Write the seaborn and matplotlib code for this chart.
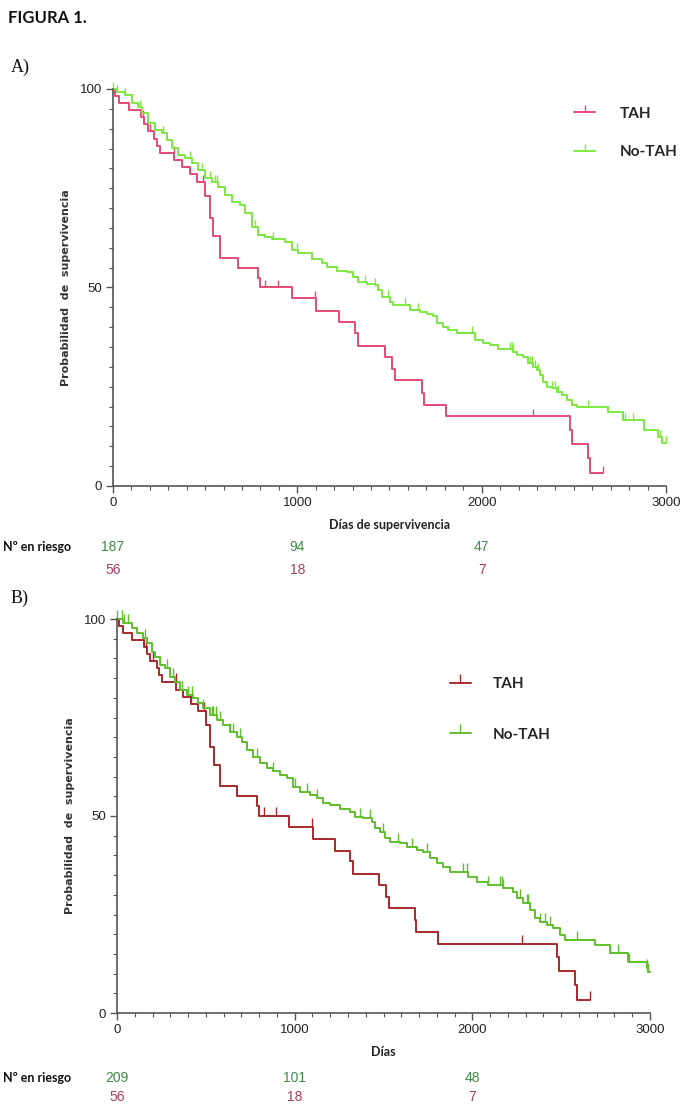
import matplotlib
matplotlib.use("Agg")
import matplotlib.pyplot as plt
from matplotlib.lines import Line2D
from matplotlib.ticker import MultipleLocator
from matplotlib.transforms import blended_transform_factory
import numpy as np
import pandas as pd
import seaborn as sns

# TAH curve (same in both panels): event time in days -> survival % after the step
tah_t = [0, 11, 33, 87, 152, 170, 188, 224, 237, 255, 333, 373, 418, 454, 499, 526, 544, 580, 676, 789,
         798, 970, 1102, 1228, 1313, 1330, 1477, 1515, 1530, 1676, 1685, 1804, 2478, 2490, 2578, 2588, 2660]
tah_s = [100, 98.2, 96.4, 94.6, 92.9, 91.1, 89.3, 87.5, 85.7, 84.0, 82.1, 80.3, 78.5, 76.7, 73.0, 67.5, 63.0, 57.5, 55.0, 52.5,
         50.0, 47.3, 44.2, 41.2, 38.5, 35.3, 32.4, 29.4, 26.7, 23.5, 20.5, 17.6, 14.1, 10.6, 7.0, 3.4, 3.4]
tah_cens = [165, 200, 331, 418, 490, 825, 893, 1096, 2278, 2660]

# No-TAH, panel A
notah_a_t = [0, 20, 65, 101, 137, 156, 192, 228, 264, 291, 318, 354, 391, 427, 463, 499, 535, 572, 608, 644,
             689, 716, 752, 789, 825, 861, 933, 969, 1006, 1078, 1132, 1159, 1214, 1268, 1304, 1331, 1376, 1422, 1440, 1458,
             1503, 1521, 1611, 1666, 1702, 1738, 1756, 1792, 1820, 1865, 1964, 2009, 2046, 2091, 2172, 2190, 2226, 2254, 2281, 2299,
             2317, 2335, 2353, 2380, 2407, 2434, 2462, 2489, 2516, 2688, 2769, 2878, 2959, 2977, 3000]
notah_a_s = [100, 99.2, 98.5, 96.4, 95.5, 93.9, 91.4, 89.7, 88.8, 87.2, 85.1, 83.4, 82.5, 81.3, 79.6, 77.5, 76.7, 75.4, 73.3, 71.6,
             70.8, 68.7, 65.3, 63.2, 62.8, 62.1, 61.5, 59.4, 58.6, 57.3, 56.1, 55.1, 54.2, 54.0, 52.7, 51.5, 51.0, 50.6, 49.4, 47.7,
             46.4, 45.6, 44.3, 43.9, 43.3, 42.7, 41.0, 40.1, 39.3, 38.5, 36.9, 35.9, 35.5, 34.4, 33.8, 33.0, 32.6, 30.9, 30.1, 29.2,
             28.0, 26.3, 25.0, 24.6, 23.8, 22.9, 21.7, 20.4, 19.8, 18.7, 16.6, 14.1, 12.4, 10.9, 10.9]
notah_a_cens = [0, 20, 65, 147, 273, 318, 418, 481, 526, 553, 562, 770, 870, 997, 1368, 1422, 1494, 1585, 1657, 1946,
                1964, 2154, 2163, 2172, 2263, 2272, 2290, 2308, 2380, 2398, 2416, 2579, 2778, 2823, 2878, 2968, 3000]

# No-TAH, panel B
notah_b_t = [0, 36, 83, 111, 148, 167, 195, 214, 242, 270, 298, 326, 355, 392, 430, 458, 486, 523, 561, 598,
             636, 673, 702, 730, 767, 805, 842, 880, 917, 955, 992, 1030, 1086, 1124, 1161, 1199, 1255, 1311, 1339, 1386,
             1433, 1452, 1480, 1508, 1536, 1593, 1630, 1686, 1724, 1761, 1799, 1836, 1874, 1977, 2024, 2090, 2174, 2230, 2249, 2287,
             2324, 2352, 2380, 2418, 2455, 2493, 2521, 2690, 2774, 2877, 2981, 2990, 3000]
notah_b_s = [100, 99.0, 97.6, 96.4, 95.1, 93.8, 91.7, 90.4, 88.3, 87.5, 85.4, 84.1, 82.0, 80.7, 79.9, 78.6, 77.3, 75.6, 74.4, 73.1,
             71.4, 70.1, 68.9, 66.8, 65.1, 63.4, 62.1, 61.3, 60.4, 59.6, 57.4, 56.2, 55.3, 54.5, 53.2, 52.8, 51.9, 51.1, 49.8, 49.4,
             48.6, 46.9, 46.0, 44.3, 43.5, 43.1, 42.2, 41.4, 40.9, 39.3, 38.0, 37.1, 35.9, 34.6, 33.3, 32.5, 31.6, 30.8, 29.1, 27.8,
             26.1, 24.0, 23.2, 22.3, 21.5, 19.8, 18.5, 17.3, 15.3, 13.0, 11.3, 10.5, 10.5]
notah_b_cens = [0, 26, 40, 64, 158, 242, 280, 317, 364, 401, 420, 486, 533, 542, 557, 580, 636, 655, 692, 786,
                880, 1002, 1067, 1124, 1367, 1424, 1499, 1583, 1658, 1743, 1949, 1968, 2090, 2155, 2165, 2174, 2268, 2305, 2315, 2380,
                2408, 2437, 2587, 2774, 2821, 2883, 2981, 2990]

# numbers at risk
risk_days = [0, 1000, 2000]
risk_a_notah = ["187", "94", "47"]
risk_a_tah = ["56", "18", "7"]
risk_b_notah = ["209", "101", "48"]
risk_b_tah = ["56", "18", "7"]

labels = ["TAH", "No-TAH"]

sns.set_style("ticks")
plt.rcParams["font.family"] = ["Liberation Sans", "DejaVu Sans"]

W, H = 682, 1112
fig = plt.figure(figsize=(W / 100, H / 100), dpi=100)


def km_panel(ax, t_tah, s_tah, c_tah, t_no, s_no, c_no, col_tah, col_no, xlabel, tick_ms):
    for t, s, c, col in [(t_tah, s_tah, c_tah, col_tah), (t_no, s_no, c_no, col_no)]:
        d = pd.DataFrame({"t": t, "s": s})
        sns.lineplot(data=d, x="t", y="s", ax=ax, color=col, linewidth=1.4,
                     drawstyle="steps-post", estimator=None, legend=False, clip_on=False)
        # censoring marks, y looked up from the step curve
        idx = np.searchsorted(np.array(t), np.array(c), side="right") - 1
        cd = pd.DataFrame({"t": c, "s": np.array(s)[idx]})
        sns.scatterplot(data=cd, x="t", y="s", ax=ax, marker=2, s=tick_ms ** 2,
                        color=col, linewidth=1.0, legend=False, clip_on=False)
    ax.set_xlim(0, 3000)
    ax.set_ylim(0, 100)
    ax.set_xticks([0, 1000, 2000, 3000])
    ax.set_yticks([0, 50, 100])
    ax.xaxis.set_minor_locator(MultipleLocator(100))
    ax.yaxis.set_minor_locator(MultipleLocator(5))
    ax.tick_params(which="major", length=5, width=1, color="#555555", labelsize=9.5, labelcolor="#222222", pad=3)
    ax.tick_params(which="minor", length=3, width=0.8, color="#555555")
    sns.despine(ax=ax)
    for sp in ["left", "bottom"]:
        ax.spines[sp].set_color("#555555")
        ax.spines[sp].set_linewidth(1.2)
    ax.set_ylabel("Probabilidad  de  supervivencia", fontsize=8, fontweight="bold",
                  color="#333333", family="DejaVu Sans", labelpad=6)
    ax.set_xlabel(xlabel, fontsize=9, fontweight="bold", color="#222222", family="Lato", labelpad=7)


# ---- panel A ----
axA = fig.add_axes([113 / W, 1 - 486 / H, 553 / W, 397 / H])
colA_tah, colA_no = "#e54a73", "#7de840"
km_panel(axA, tah_t, tah_s, tah_cens, notah_a_t, notah_a_s, notah_a_cens,
         colA_tah, colA_no, "Días de supervivencia", 5)
hA = [Line2D([], [], color=c, lw=1.4, marker=2, ms=5, mew=1.0) for c in [colA_tah, colA_no]]
axA.legend(hA, labels, loc="upper left", bbox_to_anchor=(0.82, 0.975), frameon=False,
           handlelength=1.4, handletextpad=1.6, labelspacing=1.6, borderpad=0,
           prop={"family": "Lato", "weight": "bold", "size": 11})

# ---- panel B ----
axB = fig.add_axes([117 / W, 1 - 1013 / H, 533 / W, 394 / H])
colB_tah, colB_no = "#a8282c", "#5fbf2c"
km_panel(axB, tah_t, tah_s, tah_cens, notah_b_t, notah_b_s, notah_b_cens,
         colB_tah, colB_no, "Días", 6.5)
hB = [Line2D([], [], color=c, lw=1.4, marker=2, ms=6.5, mew=1.0) for c in [colB_tah, colB_no]]
axB.legend(hB, labels, loc="upper left", bbox_to_anchor=(0.61, 0.872), frameon=False,
           handlelength=1.4, handletextpad=1.4, labelspacing=2.4, borderpad=0,
           prop={"family": "Lato", "weight": "bold", "size": 11})

# ---- at-risk tables ----
green_txt, red_txt = "#3f8a45", "#a83a62"
for ax, y1, y2, r_no, r_tah in [(axA, 547, 570, risk_a_notah, risk_a_tah),
                                (axB, 1078, 1097, risk_b_notah, risk_b_tah)]:
    tr = blended_transform_factory(ax.transData, fig.transFigure)
    for d, a, b in zip(risk_days, r_no, r_tah):
        ax.text(d, 1 - y1 / H, a, transform=tr, ha="center", va="center", fontsize=10, color=green_txt)
        ax.text(d, 1 - y2 / H, b, transform=tr, ha="center", va="center", fontsize=10, color=red_txt)
    fig.text(3 / W, 1 - y1 / H, "Nº en riesgo", ha="left", va="center", fontsize=9,
             fontweight="bold", family="Lato", color="#111111")

# ---- titles ----
fig.text(8 / W, 1 - 18 / H, "FIGURA 1.", ha="left", va="center", fontsize=12,
         fontweight="bold", family="Lato", color="#111111")
fig.text(11 / W, 1 - 67 / H, "A)", ha="left", va="center", fontsize=13,
         family="Liberation Serif", color="#111111")
fig.text(11 / W, 1 - 598 / H, "B)", ha="left", va="center", fontsize=13,
         family="Liberation Serif", color="#111111")

fig.savefig("out.png", dpi=100, facecolor="white")
